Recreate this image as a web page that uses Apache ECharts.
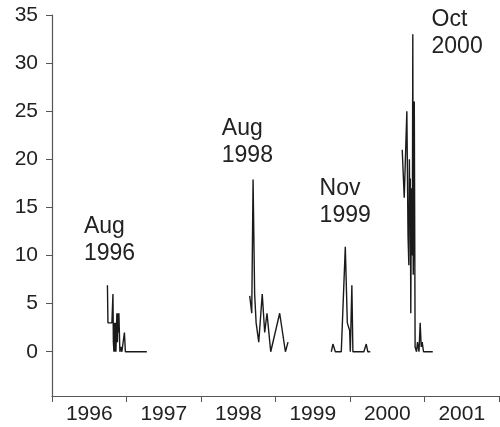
<!DOCTYPE html>
<html>
<head>
<meta charset="utf-8">
<script src="https://cdn.jsdelivr.net/npm/echarts@6/dist/echarts.min.js"></script>
<style>html,body{margin:0;padding:0;background:#fff}#c{width:500px;height:427px}</style>
</head>
<body>
<div id="c"></div>
<script>
// decimal year and value, events separated by null gaps
const ev1996 = [[1996.744,6.9],[1996.751,3],[1996.804,3],[1996.818,6],[1996.824,1],[1996.831,0],[1996.838,3],[1996.845,0],[1996.851,3],[1996.858,0],[1996.871,4],[1996.878,1],[1996.885,4],[1996.891,2],[1996.898,4],[1996.911,0],[1996.925,0.5],[1996.938,0],[1996.951,0],[1996.972,2],[1996.985,0],[1997.005,0],[1997.273,0]];
const ev1998 = [[1998.654,5.8],[1998.681,4],[1998.699,17.9],[1998.720,6],[1998.740,3],[1998.775,1],[1998.822,6],[1998.855,2],[1998.886,4],[1998.936,0],[1999.056,4],[1999.133,0],[1999.168,1]];
const ev1999 = [[1999.749,0],[1999.771,0.8],[1999.803,0],[1999.883,0],[1999.937,10.9],[1999.964,3],[1999.995,2.2],[2000.004,0],[2000.025,6.9],[2000.039,0],[2000.186,0],[2000.218,0.8],[2000.239,0],[2000.272,0]];
const ev2000 = [[2000.701,21],[2000.728,16],[2000.763,25],[2000.779,12],[2000.790,9],[2000.797,20],[2000.803,14],[2000.809,18],[2000.816,4],[2000.824,17],[2000.832,10],[2000.838,16],[2000.843,33],[2000.849,8],[2000.856,14],[2000.863,26],[2000.874,0.5],[2000.893,0],[2000.906,1],[2000.926,0],[2000.942,3],[2000.956,0.5],[2000.969,1],[2000.987,0],[2001.111,0]];
const yearTicks = [1996,1997,1998,1999,2000,2001,2002];
const yearLabels = [1996.5,1997.5,1998.5,1999.5,2000.5,2001.5];
const yTicks = [0,5,10,15,20,25,30,35];
// annotation anchor (top-left of text) in data coordinates
const annotations = [
  [1996.429,14.4,'Aug\n1996'],
  [1998.279,24.6,'Aug\n1998'],
  [1999.592,18.4,'Nov\n1999'],
  [2001.094,35.9,'Oct\n2000']
];

const seriesData = [].concat(ev1996,[[1997.5,null]],ev1998,[[1999.4,null]],ev1999,[[2000.5,null]],ev2000);

const chart = echarts.init(document.getElementById('c'), null, {renderer:'canvas'});
const font = '"Liberation Sans", Arial, sans-serif';
chart.setOption({
  animation:false,
  grid:{left:52, top:15, right:1, bottom:31, containLabel:false},
  xAxis:{type:'value', min:1996, max:2002,
    axisLine:{onZero:false, lineStyle:{color:'#555', width:1.2}},
    axisTick:{show:true, length:6, inside:false, customValues:yearTicks, lineStyle:{color:'#555'}},
    axisLabel:{customValues:yearLabels, formatter:v=>String(Math.floor(v)), fontFamily:font, fontSize:21, color:'#222', margin:8},
    splitLine:{show:false}},
  yAxis:{type:'value', min:-4.6, max:35,
    axisLine:{show:true, onZero:false, lineStyle:{color:'#555', width:1.2}},
    axisTick:{show:true, length:6, customValues:yTicks, lineStyle:{color:'#555'}},
    axisLabel:{customValues:yTicks, fontFamily:font, fontSize:21, color:'#222', margin:14},
    splitLine:{show:false}},
  series:[{type:'line', data:seriesData, showSymbol:false, connectNulls:false,
    lineStyle:{color:'#1a1a1a', width:1.4}}]
});
const gr = annotations.map(a=>{
  const p = chart.convertToPixel({gridIndex:0},[a[0],a[1]]);
  return {type:'text', left:p[0], top:p[1], style:{text:a[2], font:'23px "Liberation Sans", Arial, sans-serif', fill:'#222', lineHeight:27}};
});
chart.setOption({graphic:gr});
</script>
</body>
</html>
